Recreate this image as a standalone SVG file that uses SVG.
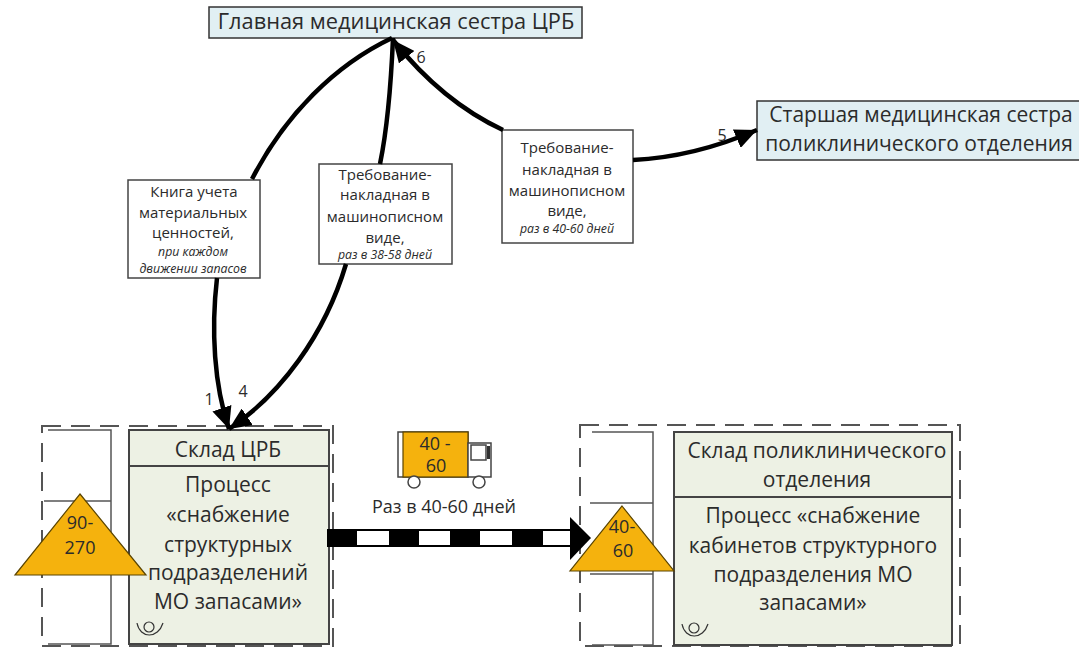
<svg xmlns="http://www.w3.org/2000/svg" width="1079" height="648" viewBox="0 0 1079 648">
<style>
text{font-family:"Open Sans","Noto Sans","Liberation Sans",sans-serif;fill:#2b2b2b;text-anchor:middle}
.l{font-size:21px}
.t{font-size:21.8px}
.n{font-size:18px}
.k{font-size:16px}
.s{font-size:15px}
.i{font-size:12.3px;font-style:italic}
.c{fill:none;stroke:#000;stroke-width:4.5}
.bl{fill:#e1eff3;stroke:#333;stroke-width:1.5}
.gr{fill:#edf1e4;stroke:#444;stroke-width:2}
.wh{fill:#fff;stroke:#444;stroke-width:1.5}
.dash{fill:none;stroke:#555;stroke-width:2;stroke-dasharray:19 10}
.tr{fill:#f5b20d;stroke:#5a4400;stroke-width:1.2}
.inv{fill:none;stroke:#555;stroke-width:1.5}
.ic{fill:none;stroke:#333;stroke-width:1.2}
</style>
<defs>
<marker id="ah" markerUnits="userSpaceOnUse" markerWidth="24" markerHeight="20" refX="22" refY="10" orient="auto"><path d="M0 0L22 10L0 20Z" fill="#000"/></marker>
</defs>
<g id="node-head"><rect class="bl" x="209" y="7" width="373" height="31"/><text class="t" x="396" y="29">Главная медицинская сестра ЦРБ</text></g>
<g id="node-senior"><rect class="bl" x="757" y="101" width="325" height="59"/><text class="l" x="921" y="122">Старшая медицинская сестра</text><text class="l" x="919" y="151">поликлинического отделения</text></g>
<g id="node-book"><rect class="wh" x="128" y="180" width="132" height="98"/><text class="s" x="194" y="197">Книга учета</text><text class="s" x="193" y="218">материальных</text><text class="s" x="193" y="238">ценностей,</text><text class="i" x="193" y="256">при каждом</text><text class="i" x="193" y="273">движении запасов</text></g>
<g id="node-req1"><rect class="wh" x="319" y="164" width="133" height="100"/><text class="s" x="385" y="180">Требование-</text><text class="s" x="385" y="200">накладная в</text><text class="s" x="385" y="222">машинописном</text><text class="s" x="385" y="243">виде,</text><text class="i" x="385" y="259">раз в 38-58 дней</text></g>
<g id="node-req2"><rect class="wh" x="502" y="130" width="131" height="113"/><text class="s" x="567" y="153">Требование-</text><text class="s" x="567" y="175">накладная в</text><text class="s" x="567" y="196">машинописном</text><text class="s" x="567" y="216">виде,</text><text class="i" x="567" y="233">раз в 40-60 дней</text></g>
<g id="node-warehouse-crb">
<rect class="dash" x="42" y="426" width="291" height="220"/>
<path class="inv" d="M48 430H111V644H48M44 501H111"/>
<rect class="gr" x="129" y="430" width="200" height="214"/><path class="gr" d="M129 466H329"/>
<text class="l" x="228" y="457">Склад ЦРБ</text>
<text class="l" x="228" y="492">Процесс</text><text class="l" x="228" y="522">«снабжение</text><text class="l" x="228" y="552">структурных</text><text class="l" x="228" y="580">подразделений</text><text class="l" x="228" y="609">МО запасами»</text>
<circle class="ic" cx="149" cy="627" r="5"/><path class="ic" d="M137 623C140 639 158 639 163 623"/>
<path class="tr" d="M80 494L146 575H15Z"/>
<text class="n" x="80" y="529">90-</text><text class="n" x="80" y="554">270</text>
</g>
<g id="truck">
<rect class="wh" x="398" y="432" width="70" height="45"/><rect x="403" y="432" width="65" height="45" class="tr"/>
<path class="wh" d="M468 443H491V477H468Z"/><rect class="wh" x="471" y="445" width="15" height="15"/><path d="M487 446H490V459H487Z" fill="#333"/>
<circle class="wh" cx="414" cy="482" r="6"/><circle class="wh" cx="479" cy="482" r="6"/>
<text class="n" x="435" y="450">40 -</text><text class="n" x="436" y="472">60</text>
<text class="n" x="444" y="513">Раз в 40-60 дней</text>
</g>
<g id="node-warehouse-clinic">
<rect class="dash" x="580" y="425" width="380" height="221"/>
<path class="inv" d="M592 432H653V645H592M590 503H653M590 574H653"/>
<rect class="gr" x="674" y="432" width="278" height="213"/><path class="gr" d="M674 497H952"/>
<text class="l" x="817" y="458">Склад поликлинического</text><text class="l" x="817" y="487">отделения</text>
<text class="l" x="813" y="523">Процесс «снабжение</text><text class="l" x="813" y="553">кабинетов структурного</text><text class="l" x="813" y="582">подразделения МО</text><text class="l" x="813" y="610">запасами»</text>
<circle class="ic" cx="694" cy="628" r="5"/><path class="ic" d="M682 624C685 640 703 640 708 624"/>
<path class="tr" d="M622 506L674 571H570Z"/>
<text class="n" x="622" y="533">40-</text><text class="n" x="623" y="557">60</text>
</g>
<g id="connectors">
<path class="c" d="M252 179C285 115 335 65 392 38"/>
<path class="c" d="M380 164C388 125 391 85 393 38" />
<path class="c" d="M503 130C460 110 425 80 393 40" marker-end="url(#ah)"/>
<path class="c" d="M633 160C675 158 715 148 757 130" marker-end="url(#ah)"/>
<path class="c" d="M217 278C211 330 214 385 229 429" marker-end="url(#ah)"/>
<path class="c" d="M346 264C325 335 280 395 229 429" marker-end="url(#ah)"/>
<g id="transfer">
<rect x="327" y="529" width="243" height="18" fill="#000"/>
<rect x="357" y="531" width="32" height="14" fill="#fff"/>
<rect x="419" y="531" width="31" height="14" fill="#fff"/>
<rect x="480" y="531" width="32" height="14" fill="#fff"/>
<rect x="543" y="531" width="27" height="14" fill="#fff"/>
<path d="M570 517L591 538L570 560Z" fill="#000"/>
</g>
<text class="k" x="209" y="405">1</text>
<text class="k" x="243" y="397">4</text>
<text class="k" x="421" y="63">6</text>
<text class="k" x="722" y="141">5</text>
</g>
</svg>
